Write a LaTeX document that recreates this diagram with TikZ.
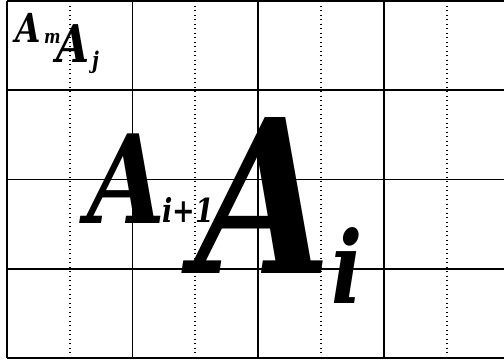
\documentclass[tikz,border=0pt]{standalone}
\usepackage{fontspec}
\newfontfamily\glyphfont{DejaVu Serif}[FakeStretch=0.82]
\newcommand{\glyphsize}[1]{\fontsize{#1}{#1}\selectfont}
\usetikzlibrary{positioning}

\begin{document}
\begin{tikzpicture}[
            x=1pt, y=-1pt,
            cell/.style  ={draw=black, line width=1.1pt},
            mid/.style   ={draw=black, line width=1.1pt, dash pattern=on 1.3pt off 3.2pt},
            glyph/.style ={inner sep=0pt, anchor=base west, text=black},
        ]
        \useasboundingbox (0,0) rectangle (504,364);

        % half-column dotted guides
        \foreach \x in {70,195,321,447}{\draw[mid] (\x,1) -- (\x,358);}

        % cell grid
        \foreach \y in {1,90,179.5,269,358}{\draw[cell] (7,\y) -- (504,\y);}
        \foreach \x in {7,132.5,384}{\draw[cell] (\x,1) -- (\x,358);}
        \draw[cell, line width=1.8pt] (258,1) -- (258,358);

        % letters
        \node[glyph, font=\glyphfont\bfseries\itshape\glyphsize{40}] (am) at (15,42) {A};
        \node[glyph, font=\glyphfont\bfseries\itshape\glyphsize{19}] (msub) at (44,43) {m};
        \node[glyph, font=\glyphfont\bfseries\itshape\glyphsize{52}] (aj) at (56,63) {A};
        \node[glyph, font=\glyphfont\bfseries\itshape\glyphsize{23}] (jsub) at (92,68) {j};

        \node[glyph, font=\glyphfont\bfseries\itshape\glyphsize{123}] (aip) at (87,223) {A};
        \node[glyph, font=\glyphfont\bfseries\itshape\glyphsize{33}] (ipsub) at (162,222) {i+1};
        \node[glyph, font=\glyphfont\bfseries\itshape\glyphsize{214}] (ai) at (195,273) {A};
        \node[glyph, font=\glyphfont\bfseries\itshape\glyphsize{100}] (isub) at (331,303) {i};

    \end{tikzpicture}
\end{document}
